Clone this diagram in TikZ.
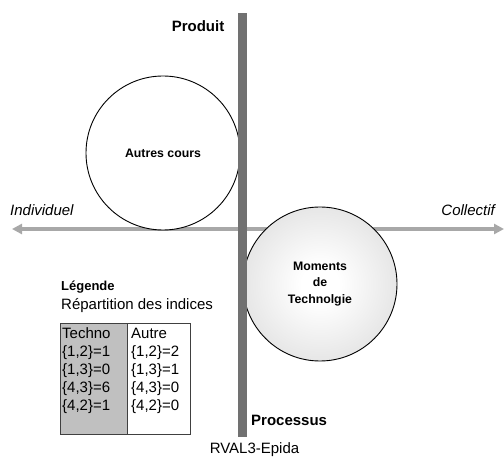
\documentclass[tikz,border=0pt]{standalone}
\usepackage{fontspec}
\setmainfont{Liberation Sans}
\usetikzlibrary{arrows.meta}
\definecolor{bargray}{HTML}{717171}
\definecolor{axisgray}{HTML}{A8A8A8}
\definecolor{cellgray}{HTML}{C0C0C0}
\definecolor{edgegray}{HTML}{404040}
\definecolor{shadegray}{HTML}{C6C6C6}
\pgfdeclareradialshading{softdisc}{\pgfpoint{0bp}{0bp}}{%
  color(0bp)=(white); color(6bp)=(white); color(50bp)=(shadegray); color(70bp)=(shadegray)}
\begin{document}
\begin{tikzpicture}[x=1pt,y=-1pt,
  txt/.style={inner sep=0pt, font=\fontsize{15}{17}\selectfont},
  boldtxt/.style={inner sep=0pt, font=\bfseries\fontsize{15}{17}\selectfont},
  axislbl/.style={inner sep=0pt, font=\itshape\fontsize{15}{17}\selectfont},
  bubble/.style={circle, draw=black, line width=0.9pt, minimum size=154pt, inner sep=0pt,
    font=\bfseries\fontsize{12.3}{16.5}\selectfont, align=center},
  column/.style={draw=edgegray, line width=1.2pt, minimum height=111pt, inner sep=0pt, anchor=north west},
  axisline/.style={axisgray, line width=3.5pt, {Triangle[length=10pt,width=10pt]}-{Triangle[length=10pt,width=10pt]}}
]
\useasboundingbox (0,0) rectangle (504,457);
\fill[white] (0,0) rectangle (504,457);

% horizontal axis
\coordinate (axL) at (12,229);
\coordinate (axR) at (504,229);
\draw[axisline] (axL) -- (axR);

% circles
\node[bubble, fill=white] (autres) at (163,153) {Autres cours};
\node[bubble, shading=softdisc] (moments) at (320,284) {Moments\\de\\Technolgie};

% vertical bar
\node[fill=bargray, minimum width=9pt, minimum height=424pt, inner sep=0pt] (bar) at (242.5,225) {};

% axis labels
\node[boldtxt, anchor=base] (produit) at (198,31.4) {Produit};
\node[boldtxt, anchor=base west] (processus) at (251,425.5) {Processus};
\node[txt, anchor=base] (rval) at (254.5,453.4) {RVAL3-Epida};
\node[axislbl, anchor=base west] (indiv) at (10,215.4) {Individuel};
\node[axislbl, anchor=base east] (collectif) at (495,215.4) {Collectif};

% legend
\node[inner sep=0pt, font=\bfseries\fontsize{13}{15}\selectfont, anchor=base west] (legende) at (61,290.4) {Légende};
\node[txt, anchor=base west] (repart) at (61,309.7) {Répartition des indices};
\node[column, fill=cellgray, minimum width=67pt] (techcol) at (60,323) {};
\node[column, fill=white, minimum width=63pt] (autrecol) at (127,323) {};

\node[txt, anchor=base west] (t0) at (62,338.7) {Techno};
\node[txt, anchor=base west] (t1) at (62,356.6) {\{1,2\}=1};
\node[txt, anchor=base west] (t2) at (62,374.5) {\{1,3\}=0};
\node[txt, anchor=base west] (t3) at (62,392.4) {\{4,3\}=6};
\node[txt, anchor=base west] (t4) at (62,410.3) {\{4,2\}=1};

\node[txt, anchor=base west] (a0) at (131,338.7) {Autre};
\node[txt, anchor=base west] (a1) at (131,356.6) {\{1,2\}=2};
\node[txt, anchor=base west] (a2) at (131,374.5) {\{1,3\}=1};
\node[txt, anchor=base west] (a3) at (131,392.4) {\{4,3\}=0};
\node[txt, anchor=base west] (a4) at (131,410.3) {\{4,2\}=0};
\end{tikzpicture}
\end{document}
